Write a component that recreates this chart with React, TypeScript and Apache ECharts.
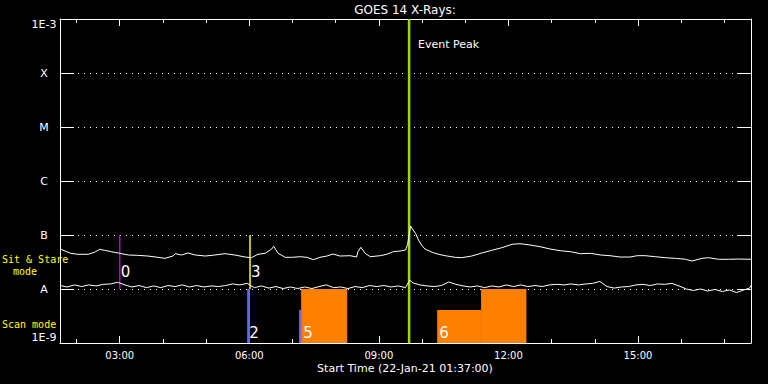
import React, { useEffect, useRef } from "react";
import * as echarts from "echarts";

const TITLE = "GOES 14 X-Rays:";
const X_NAME = "Start Time (22-Jan-21 01:37:00)";
const START = "01:37";
const END = "17:37";
const MAJOR_TICKS = ["03:00", "06:00", "09:00", "12:00", "15:00"];
const MINOR_TICKS = ["02:00", "04:00", "05:00", "07:00", "08:00", "10:00", "11:00", "13:00", "14:00", "16:00", "17:00"];
// log10 of flux (W/m^2) -> label
const Y_LEVELS: [number, string][] = [[-9, "1E-9"], [-8, "A"], [-7, "B"], [-6, "C"], [-5, "M"], [-4, "X"], [-3, "1E-3"]];

// GOES 1-8 Å (long channel), flux in units of 1e-8 W/m^2
const longChannel: [string, number][] = [
  ["01:37", 5.5], ["01:44", 5.06], ["01:52", 4.58], ["02:02", 4.39], ["02:16", 4.39], ["02:25", 4.78], ["02:32", 5.43],
  ["02:39", 5.21], ["02:48", 4.91], ["03:00", 4.58], ["03:12", 4.26], ["03:25", 4.2], ["03:39", 4.08], ["03:53", 3.86],
  ["04:03", 3.7], ["04:14", 4.08], ["04:17", 4.51], ["04:26", 4.26], ["04:35", 4.64], ["04:45", 4.26], ["04:59", 4.08],
  ["05:12", 4.26], ["05:26", 4.51], ["05:40", 4.26], ["05:54", 3.91], ["06:03", 3.8], ["06:12", 4.39], ["06:22", 4.58],
  ["06:31", 5.5], ["06:34", 6.18], ["06:40", 4.58], ["06:50", 3.86], ["06:59", 3.86], ["07:11", 3.96], ["07:20", 3.86],
  ["07:29", 3.49], ["07:38", 3.86], ["07:48", 4.08], ["07:56", 4.45], ["08:06", 4.08], ["08:20", 4.14], ["08:29", 3.91],
  ["08:31", 4.91], ["08:35", 5.92], ["08:41", 4.58], ["08:48", 3.96], ["09:02", 4.14], ["09:11", 4.39], ["09:20", 4.91],
  ["09:30", 5.06], ["09:37", 5.27], ["09:40", 6.73], ["09:44", 14.7], ["09:46", 13.3], ["09:51", 10.7], ["09:55", 8.07],
  ["10:00", 6.34], ["10:04", 5.5], ["10:14", 4.78], ["10:23", 4.39], ["10:32", 4.14], ["10:46", 3.86], ["10:55", 3.8],
  ["11:09", 4.08], ["11:23", 4.64], ["11:37", 5.21], ["11:51", 5.82], ["12:05", 6.73], ["12:16", 6.9], ["12:30", 6.53],
  ["12:44", 6.07], ["12:58", 5.5], ["13:12", 5.12], ["13:26", 4.91], ["13:40", 4.51], ["13:54", 4.58], ["14:08", 4.26],
  ["14:21", 4.14], ["14:35", 3.91], ["14:49", 3.91], ["14:59", 4.14], ["15:10", 4.14], ["15:24", 3.96], ["15:38", 3.8],
  ["15:52", 3.7], ["16:06", 3.55], ["16:15", 3.3], ["16:29", 3.7], ["16:38", 3.8], ["16:52", 3.55], ["17:06", 3.55],
  ["17:20", 3.59], ["17:34", 3.55], ["17:37", 3.55],
];

// GOES 0.5-4 Å (short channel), flux in units of 1e-8 W/m^2
const shortChannel: [string, number][] = [
  ["01:37", 1.16], ["01:47", 1.09], ["01:57", 1.19], ["02:07", 1.11], ["02:17", 1.19], ["02:27", 1.14], ["02:37", 1.22],
  ["02:47", 1.24], ["02:57", 1.33], ["03:07", 1.19], ["03:17", 1.09], ["03:27", 1.16], ["03:37", 1.06], ["03:47", 1.14],
  ["03:57", 1.06], ["04:07", 1.16], ["04:17", 1.11], ["04:27", 1.19], ["04:37", 1.09], ["04:47", 1.16], ["04:57", 1.09],
  ["05:07", 1.14], ["05:17", 1.11], ["05:27", 1.16], ["05:37", 1.24], ["05:47", 1.19], ["05:57", 1.27], ["06:07", 1.06],
  ["06:17", 1.14], ["06:27", 1.04], ["06:37", 1.11], ["06:47", 1.02], ["06:57", 1.09], ["07:07", 1.02], ["07:17", 1.09],
  ["07:27", 1.02], ["07:37", 1.11], ["07:47", 1.19], ["07:57", 1.06], ["08:07", 1.09], ["08:17", 1.02], ["08:27", 1.11],
  ["08:37", 1.06], ["08:47", 1.16], ["08:57", 1.11], ["09:07", 1.16], ["09:17", 1.09], ["09:27", 1.14], ["09:37", 1.06],
  ["09:43", 1.47], ["09:47", 1.3], ["09:57", 1.19], ["10:07", 1.14], ["10:17", 1.11], ["10:27", 1.16], ["10:37", 1.35],
  ["10:47", 1.22], ["10:57", 1.14], ["11:07", 1.09], ["11:17", 1.14], ["11:27", 1.06], ["11:37", 1.14], ["11:47", 1.09],
  ["11:57", 1.19], ["12:07", 1.11], ["12:17", 1.19], ["12:27", 1.11], ["12:37", 1.16], ["12:47", 1.11], ["12:57", 1.19],
  ["13:07", 1.22], ["13:17", 1.19], ["13:27", 1.24], ["13:37", 1.19], ["13:47", 1.24], ["13:57", 1.27], ["14:07", 1.38],
  ["14:17", 1.11], ["14:27", 1.04], ["14:37", 1.09], ["14:47", 1.11], ["14:57", 1.19], ["15:07", 1.22], ["15:17", 1.16],
  ["15:27", 1.24], ["15:37", 1.22], ["15:47", 1.27], ["15:57", 1.14], ["16:07", 1.0], ["16:17", 0.94], ["16:27", 1.0],
  ["16:37", 0.92], ["16:47", 0.98], ["16:57", 0.9], ["17:07", 0.96], ["17:17", 0.86], ["17:27", 0.96], ["17:35", 1.04],
  ["17:37", 1.16],
];

// Sit & stare pointings: label, time, low flux, high flux (1e-8 W/m^2)
const pointings: [string, string, number, number][] = [
  ["0", "03:00", 1, 10],
  ["3", "06:01", 1, 10],
];

// Scan-mode blocks: label, start, end, top flux (1e-8 W/m^2), kind
const scanBlocks: [string, string, string, number, string][] = [
  ["2", "05:57", "06:01", 1, "a"],
  ["4", "07:09", "07:12", 0.41, "a"],
  ["5", "07:12", "08:16", 1, "b"],
  ["6", "10:21", "11:22", 0.41, "b"],
  ["", "11:22", "12:25", 1, "b"],
];
const SCAN_FLOOR = 0.1;

const eventPeak = { time: "09:42", label: "Event Peak" };

// styles
const POINTING_COLORS: Record<string, string> = { "0": "#c000c0", "3": "#ffff00" };
const BLOCK_COLORS: Record<string, string> = { a: "#6464ff", b: "#ff8000" };
const PEAK_COLOR = "#a6d40a";
const FONT = "DejaVu Sans";

const hm = (s: string) => {
  const [h, m] = s.split(":").map(Number);
  return h + m / 60;
};
const lg = (v: number) => Math.log10(v * 1e-8);
const fmt = (h: number) => {
  const hh = Math.floor(h + 1e-6);
  const mm = Math.round((h - hh) * 60);
  return `${String(hh).padStart(2, "0")}:${String(mm).padStart(2, "0")}`;
};

export default function App() {
  const ref = useRef<HTMLDivElement>(null);
  useEffect(() => {
    if (!ref.current) return;
    const chart = echarts.init(ref.current, undefined, { renderer: "svg" });
    const xMin = hm(START);
    const xMax = hm(END);
    const major = MAJOR_TICKS.map(hm);
    const minor = MINOR_TICKS.map(hm);
    const labelMap: Record<string, string> = {};
    Y_LEVELS.forEach(([v, l]) => (labelMap[String(v)] = l));
    const white = "#ffffff";

    const xBase = {
      type: "value" as const,
      min: xMin,
      max: xMax,
      splitLine: { show: false },
      axisLine: { show: false, lineStyle: { color: white, width: 1 } },
      axisLabel: { show: false },
    };

    const option: any = {
      animation: false,
      backgroundColor: "#000000",
      grid: { left: 60, right: 17, top: 19, bottom: 41 },
      xAxis: [
        {
          ...xBase,
          position: "bottom",
          axisLine: { show: true, onZero: false, lineStyle: { color: white, width: 1 } },
          axisTick: { show: true, inside: true, length: 7, customValues: major, lineStyle: { color: white } },
          axisLabel: {
            show: true,
            customValues: major,
            formatter: (v: number) => fmt(v),
            color: white,
            fontFamily: FONT,
            fontSize: 10,
            margin: 7,
          },
        },
        {
          ...xBase,
          position: "bottom",
          axisTick: { show: true, inside: true, length: 4, customValues: minor, lineStyle: { color: white } },
        },
        {
          ...xBase,
          position: "top",
          axisLine: { show: true, onZero: false, lineStyle: { color: white, width: 1 } },
          axisTick: { show: true, inside: true, length: 7, customValues: major, lineStyle: { color: white } },
        },
        {
          ...xBase,
          position: "top",
          axisTick: { show: true, inside: true, length: 4, customValues: minor, lineStyle: { color: white } },
        },
      ],
      yAxis: [
        {
          type: "value",
          position: "left",
          min: -9,
          max: -3,
          interval: 1,
          axisLine: { show: true, onZero: false, lineStyle: { color: white, width: 1 } },
          axisTick: { show: true, inside: true, length: 14, lineStyle: { color: white } },
          axisLabel: {
            formatter: (v: number) => labelMap[String(Math.round(v))] ?? "",
            color: white,
            fontFamily: FONT,
            fontSize: 11,
            align: "center",
            margin: 16,
            verticalAlignMinLabel: "bottom",
            verticalAlignMaxLabel: "top",
          },
          splitLine: { show: true, lineStyle: { color: white, width: 1, type: [1, 5] } },
        },
        {
          type: "value",
          position: "right",
          min: -9,
          max: -3,
          interval: 1,
          axisLine: { show: true, onZero: false, lineStyle: { color: white, width: 1 } },
          axisTick: { show: true, inside: true, length: 14, lineStyle: { color: white } },
          axisLabel: { show: false },
          splitLine: { show: false },
        },
      ],
      graphic: [
        {
          type: "text",
          x: 405,
          y: 10,
          style: { text: TITLE, fill: white, fontFamily: FONT, fontSize: 12, align: "center", verticalAlign: "middle" },
        },
        {
          type: "text",
          x: 405,
          y: 368,
          style: { text: X_NAME, fill: white, fontFamily: FONT, fontSize: 11, align: "center", verticalAlign: "middle" },
        },
        {
          type: "text",
          x: 2,
          y: 259,
          style: { text: "Sit & Stare", fill: "#ffff00", fontFamily: "DejaVu Sans Mono", fontSize: 10, verticalAlign: "middle" },
        },
        {
          type: "text",
          x: 13,
          y: 271,
          style: { text: "mode", fill: "#ffff00", fontFamily: "DejaVu Sans Mono", fontSize: 10, verticalAlign: "middle" },
        },
        {
          type: "text",
          x: 2,
          y: 324,
          style: { text: "Scan mode", fill: "#ffff00", fontFamily: "DejaVu Sans Mono", fontSize: 10, verticalAlign: "middle" },
        },
      ],
      series: [
        {
          type: "custom",
          z: 1,
          silent: true,
          data: scanBlocks.map((b) => [hm(b[1]), lg(b[3])]),
          renderItem: (params: any, api: any) => {
            const [label, s, e, top, kind] = scanBlocks[params.dataIndex];
            const p1 = api.coord([hm(s), lg(top)]);
            const p2 = api.coord([hm(e), lg(SCAN_FLOOR)]);
            return {
              type: "group",
              children: [
                {
                  type: "rect",
                  shape: { x: p1[0], y: p1[1], width: p2[0] - p1[0], height: p2[1] - p1[1] },
                  style: { fill: BLOCK_COLORS[kind] },
                },
                {
                  type: "text",
                  x: p1[0] + 2,
                  y: p2[1] - 10,
                  style: { text: label, fill: white, fontFamily: FONT, fontSize: 15, verticalAlign: "middle" },
                },
              ],
            };
          },
        },
        {
          type: "custom",
          z: 2,
          silent: true,
          data: pointings.map((p) => [hm(p[1]), lg(p[3])]),
          renderItem: (params: any, api: any) => {
            const [label, t, lo, hi] = pointings[params.dataIndex];
            const p1 = api.coord([hm(t), lg(lo)]);
            const p2 = api.coord([hm(t), lg(hi)]);
            return {
              type: "group",
              children: [
                {
                  type: "line",
                  shape: { x1: p1[0], y1: p1[1], x2: p2[0], y2: p2[1] },
                  style: { stroke: POINTING_COLORS[label], lineWidth: 1.5 },
                },
                {
                  type: "text",
                  x: p1[0] + 1,
                  y: p1[1] - 17,
                  style: { text: label, fill: white, fontFamily: FONT, fontSize: 15, verticalAlign: "middle" },
                },
              ],
            };
          },
        },
        {
          type: "custom",
          z: 2,
          silent: true,
          data: [[hm(eventPeak.time), -3]],
          renderItem: (params: any, api: any) => {
            const p1 = api.coord([hm(eventPeak.time), -9]);
            const p2 = api.coord([hm(eventPeak.time), -3]);
            return {
              type: "group",
              children: [
                {
                  type: "line",
                  shape: { x1: p1[0], y1: p1[1], x2: p2[0], y2: p2[1] },
                  style: { stroke: PEAK_COLOR, lineWidth: 2.5 },
                },
                {
                  type: "text",
                  x: p1[0] + 9,
                  y: p2[1] + 25,
                  style: { text: eventPeak.label, fill: white, fontFamily: FONT, fontSize: 11, verticalAlign: "middle" },
                },
              ],
            };
          },
        },
        {
          type: "line",
          z: 3,
          silent: true,
          symbol: "none",
          data: longChannel.map(([t, v]) => [hm(t), lg(v)]),
          lineStyle: { color: white, width: 1 },
        },
        {
          type: "line",
          z: 3,
          silent: true,
          symbol: "none",
          data: shortChannel.map(([t, v]) => [hm(t), lg(v)]),
          lineStyle: { color: white, width: 1 },
        },
      ],
    };
    chart.setOption(option);
    return () => chart.dispose();
  }, []);
  return (
    <div
      ref={ref}
      style={{ position: "fixed", left: 0, top: 0, width: 768, height: 384, background: "#000" }}
    />
  );
}
